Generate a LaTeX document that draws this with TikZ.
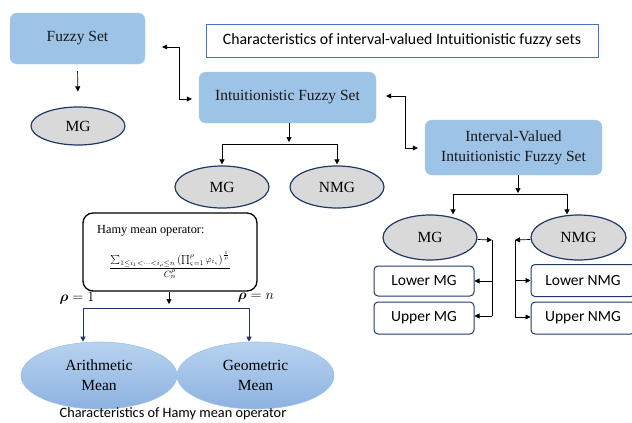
\documentclass[tikz,border=0pt]{standalone}
\usepackage{amsmath}
\usepackage{fontspec}
\setmainfont{Liberation Serif}
\newfontfamily\carl{Carlito}
\usetikzlibrary{arrows.meta,shapes.geometric,calc}
\definecolor{boxblue}{HTML}{9DC3E6}
\definecolor{ellgrey}{HTML}{D9D9D9}
\definecolor{navy}{HTML}{203864}
\definecolor{titleblue}{HTML}{4472C4}
\definecolor{meantop}{HTML}{B7D2EF}
\definecolor{meanbot}{HTML}{8DB2E0}
\begin{document}
\begin{tikzpicture}[x=1pt,y=-1pt,
  bbox/.style={rectangle,rounded corners=7pt,fill=boxblue,draw=boxblue!85!white,text=black!90,font=\fontsize{15.5}{20}\selectfont,inner sep=0pt},
  tbox/.style={rectangle,draw=titleblue,line width=1pt,fill=white,font=\carl\fontsize{15.8}{18}\selectfont,inner sep=0pt},
  ell/.style={ellipse,fill=ellgrey,draw=navy,line width=1.2pt,inner sep=0pt,font=\fontsize{15.5}{18}\selectfont},
  sbox/.style={rectangle,rounded corners=4pt,draw=navy,line width=1pt,fill=white,inner sep=0pt,font=\carl\fontsize{15.5}{18}\selectfont},
  hbox/.style={rectangle,rounded corners=10pt,draw=black,line width=1.3pt,fill=white,inner sep=0pt},
  gell/.style={ellipse,top color=meantop,bottom color=meanbot,draw=boxblue,line width=0.6pt,inner sep=0pt,align=center,font=\fontsize{15.5}{20}\selectfont},
  arr/.style={-{Triangle[length=5pt,width=5pt]},line width=0.7pt},
  arrb/.style={{Triangle[length=5pt,width=5pt]}-{Triangle[length=5pt,width=5pt]},line width=0.7pt},
  ln/.style={line width=0.7pt}
]
\useasboundingbox (0,0) rectangle (632,423);

% nodes
\node[bbox,minimum width=135pt,minimum height=51pt] (fs) at (77.5,38.5) {\raisebox{5pt}{Fuzzy Set}};
\node[tbox,minimum width=392pt,minimum height=33pt] (title) at (402,40.5) {Characteristics of interval-valued Intuitionistic fuzzy sets};
\node[ell,minimum width=94pt,minimum height=38pt] (mg1) at (78,126) {MG};
\node[bbox,minimum width=177pt,minimum height=51pt] (ifs) at (287.5,97.5) {\raisebox{5pt}{Intuitionistic Fuzzy Set}};
\node[ell,minimum width=94pt,minimum height=42pt] (mg2) at (222,187) {MG};
\node[ell,minimum width=94pt,minimum height=42pt] (nmg2) at (337,187) {NMG};
\node[bbox,minimum width=177pt,minimum height=55pt,align=center] (ivifs) at (513.5,147.5) {Interval-Valued\\Intuitionistic Fuzzy Set};
\node[ell,minimum width=94pt,minimum height=45pt] (mg3) at (430,237.5) {MG};
\node[ell,minimum width=95pt,minimum height=45pt] (nmg3) at (578.5,237.5) {NMG};
\node[sbox,minimum width=100pt,minimum height=30pt] (lmg) at (424,281) {Lower MG};
\node[sbox,minimum width=100pt,minimum height=32pt] (umg) at (424,318) {Upper MG};
\node[sbox,minimum width=104pt,minimum height=32pt] (lnmg) at (583,280.5) {Lower NMG};
\node[sbox,minimum width=104pt,minimum height=32pt] (unmg) at (583,318) {Upper NMG};

\node[hbox,minimum width=174pt,minimum height=78pt] (hamy) at (170,252) {};
\node[anchor=west,inner sep=0pt,font=\fontsize{12.3}{14}\selectfont] (hamyt) at (97,231) {Hamy mean operator:};
\node[inner sep=0pt] (hamyf) at (170,265) {\fontsize{9.5}{11}\selectfont$\dfrac{\sum_{1\le i_1<\dots<i_\rho\le n}\left(\prod_{\varsigma=1}^{\rho}\varphi_{i_\varsigma}\right)^{\frac{1}{\rho}}}{C_n^{\rho}}$};

\node[gell,minimum width=156pt,minimum height=67pt] (arith) at (99,375.5) {Arithmetic\\Mean};
\node[gell,minimum width=157pt,minimum height=67pt] (geo) at (255.5,375.5) {Geometric\\Mean};
\node[font=\carl\fontsize{14.3}{16}\selectfont,inner sep=0pt] (cap) at (173,414) {Characteristics of Hamy mean operator};
\node[inner sep=0pt,font=\fontsize{15.5}{17}\selectfont] (r1lab) at (77,298) {$\boldsymbol{\rho}=1$};
\node[inner sep=0pt,font=\fontsize{15.5}{17}\selectfont] (rnlab) at (256,298) {$\boldsymbol{\rho}=n$};

% connectors
\draw[arr,shorten <=7pt,shorten >=15pt] (fs.south) -- (mg1.north);
\draw[arrb] ([shift={(17,8.5)}]fs.east) -- ++(17,0) |- ([shift={(-7,1.5)}]ifs.west);
\draw[arrb] ([shift={(10,-1.5)}]ifs.east) -- ++(19,0) |- ([shift={(-7,0.5)}]ivifs.west);

\coordinate (j1) at (289,144);
\draw[arr] (ifs.south -| j1) -- ([yshift=2pt]j1);
\draw[ln] (mg2.north |- j1) -- (nmg2.north |- j1);
\draw[arr] (mg2.north |- j1) -- ([yshift=1pt]mg2.north);
\draw[arr] (nmg2.north |- j1) -- ([yshift=1pt]nmg2.north);

\coordinate (j2) at (518,194);
\draw[arr] (ivifs.south -| j2) -- ([yshift=1pt]j2);
\coordinate (j2l) at (453,194);
\coordinate (j2r) at (567,194);
\draw[ln] (j2l) -- (j2r);
\draw[arr] (j2l) -- (j2l |- mg3.north);
\draw[arr] (j2r) -- (j2r |- nmg3.north);

\coordinate (v1) at (492,240);
\coordinate (v2) at (492,316);
\draw[arr] ([yshift=-2pt]mg3.east) -- (v1);
\draw[ln] (v1) -- (v2);
\draw[arr] (v1 |- lmg.east) -- (lmg.east);
\draw[arr] (v2) -- (v2 -| umg.east);

\coordinate (w1) at (515,240);
\coordinate (w2) at (515,317);
\draw[arr] ([yshift=-2pt]nmg3.west) -- (w1);
\draw[ln] (w1) -- (w2);
\draw[arr] (w1 |- lnmg.west) -- (lnmg.west);
\draw[arr] (w2) -- (w2 -| unmg.west);

\coordinate (j3) at (169,308);
\draw[arr] (hamy.south -| j3) -- ([yshift=4pt]j3);
\coordinate (j3l) at (83,308);
\coordinate (j3r) at (249,308);
\draw[ln,draw=navy] (j3l) -- (j3r);
\draw[arr,draw=navy] (j3l) -- (j3l |- arith.north);
\draw[arr,draw=navy] (j3r) -- (j3r |- geo.north);
\end{tikzpicture}
\end{document}
